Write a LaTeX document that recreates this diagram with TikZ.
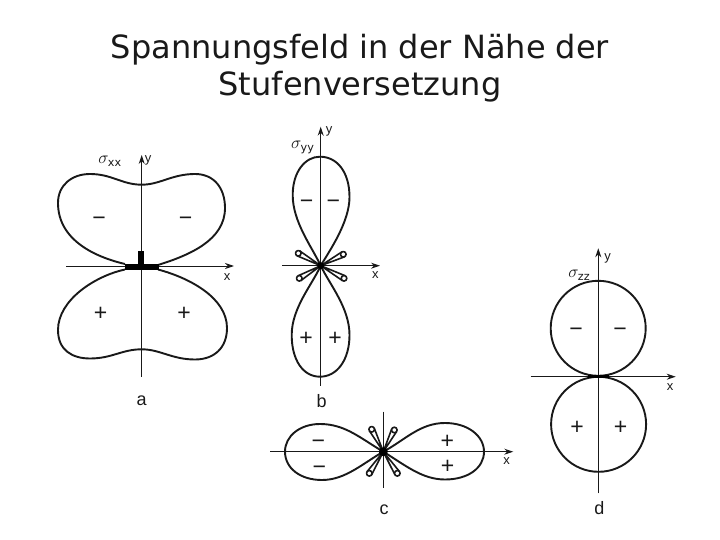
\documentclass[tikz,border=0pt]{standalone}
\usepackage{fontspec}
\setmainfont{DejaVu Sans}
\newfontfamily\panelfont{Liberation Sans}
\usetikzlibrary{arrows.meta,calc}
\begin{document}
\begin{tikzpicture}[
        x=1pt, y=-1pt,
        lobeline/.style={line width=1.9pt, line join=round, black!90},
        petalline/.style={line width=1.6pt, line join=round, black!90},
        axisline/.style={line width=1pt, black!90},
        axisarrow/.style={axisline, -{Stealth[length=9pt, width=6pt]}},
        titletext/.style={font=\fontsize{32}{32}\selectfont, text=black!90},
        panellabel/.style={font=\panelfont\fontsize{18}{18}\selectfont, text=black!90},
        axislabel/.style={font=\panelfont\fontsize{13}{13}\selectfont, text=black!90},
        signlabel/.style={font=\panelfont\fontsize{23}{23}\selectfont, text=black!90, inner sep=0pt},
        minuslabel/.style={signlabel, yshift=-4pt},
        pluslabel/.style={signlabel, yshift=-1.5pt},
        stresslabel/.style={font=\fontsize{16}{16}\selectfont, text=black!90, inner sep=0pt}
    ]
    \useasboundingbox (0,0) rectangle (720,540);
    \def\petalr{2.8}
    \def\drawpetal#1#2{
        \coordinate (e) at (#2);
        \draw[petalline] (#1) -- ($(e)!\petalr pt!90:(#1)$) (#1) -- ($(e)!\petalr pt!-90:(#1)$);
        \draw[petalline, fill=white] (e) circle (\petalr);
    }

    % === Title ===
    \node[titletext] (titleone) at (360,50) {Spannungsfeld in der Nähe der};
    \node[titletext] (titletwo) at (360,87) {Stufenversetzung};

    % === Panel a ===
    \draw[axisarrow] (66,266) -- (234,266);
    \draw[axisarrow] (141.7,376.7) -- (141.7,155);
    \draw[lobeline] (125,264) .. controls (95,257) and (58,240) .. (58,203)
        .. controls (58,185) and (72,174) .. (90,174)
        .. controls (112,174) and (122,184.7) .. (141.7,184.7)
        .. controls (160,184.7) and (172,174) .. (195,174)
        .. controls (214,174) and (225,188) .. (225,208)
        .. controls (225,240) and (190,255) .. (158,265);
    \draw[lobeline] (125,269.5) .. controls (95,276) and (58,300) .. (58,330)
        .. controls (58,350) and (72,358.5) .. (90,358.5)
        .. controls (112,358.5) and (122,349.3) .. (141.7,349.3)
        .. controls (160,349.3) and (172,359.5) .. (195,359.5)
        .. controls (214,359.5) and (227,348) .. (227,328)
        .. controls (227,298) and (190,278) .. (158,269.5);
    \fill[black] (125,264) rectangle (159.3,270);
    \fill[black] (138.3,251.3) rectangle (144,266);
    \node[stresslabel] (sxx) at (110,161) {$\sigma_{\mathrm{xx}}$};
    \node[axislabel] (ya) at (148,160) {y};
    \node[axislabel] (xa) at (227,277) {x};
    \node[minuslabel] (ma1) at (99,217.7) {\textminus};
    \node[minuslabel] (ma2) at (185.7,217.7) {\textminus};
    \node[pluslabel] (pa1) at (100.7,312) {+};
    \node[pluslabel] (pa2) at (184,312) {+};
    \node[panellabel] (capa) at (141.7,400.7) {a};

    % === Panel b ===
    \coordinate (cb) at (320.7,265.7);
    \draw[axisarrow] (282.3,265.7) -- (380,265.7);
    \draw[axisarrow] (320.7,385.7) -- (320.7,126.7);
    \draw[lobeline] (cb) .. controls (312,247) and (292.7,222) .. (292.7,195)
        .. controls (292.7,172) and (305,156.7) .. (320,156.7)
        .. controls (337,156.7) and (349.5,172) .. (349.5,197)
        .. controls (349.5,222) and (330,250) .. (cb);
    \draw[lobeline] (cb) .. controls (312,285) and (291.7,308) .. (291.7,335)
        .. controls (291.7,360) and (303,376.7) .. (320,376.7)
        .. controls (337,376.7) and (349.5,360) .. (349.5,335)
        .. controls (349.5,308) and (330,285) .. (cb);
    \drawpetal{cb}{298.3,253.3}
    \drawpetal{cb}{343.3,254.3}
    \drawpetal{cb}{299.3,278.3}
    \drawpetal{cb}{344,278.3}
    \fill[black] (cb) circle (3.5);
    \node[stresslabel] (syy) at (302.7,147.3) {$\sigma_{\mathrm{yy}}$};
    \node[axislabel] (yb) at (329,131.7) {y};
    \node[axislabel] (xb) at (375.3,275) {x};
    \node[minuslabel] (mb1) at (306.7,200.7) {\textminus};
    \node[minuslabel] (mb2) at (333.3,200.7) {\textminus};
    \node[pluslabel] (pb1) at (306,337.7) {+};
    \node[pluslabel] (pb2) at (335,337.7) {+};
    \node[panellabel] (capb) at (321.7,401) {b};

    % === Panel c ===
    \coordinate (cc) at (383.3,451.7);
    \draw[axisarrow] (270,451.7) -- (513.3,451.7);
    \draw[axisline] (383.3,411.7) -- (383.3,488.3);
    \draw[lobeline] (cc) .. controls (360,438) and (345,424) .. (320,424)
        .. controls (300,424) and (285,436) .. (285,451.7)
        .. controls (285,468) and (300,480) .. (322,480)
        .. controls (345,480) and (362,464) .. (cc);
    \draw[lobeline] (cc) .. controls (405,440) and (420,423) .. (445,423)
        .. controls (468,423) and (484,436) .. (484,451.7)
        .. controls (484,468) and (468,479.5) .. (445,479.5)
        .. controls (422,479.5) and (405,465) .. (cc);
    \drawpetal{cc}{371.7,429.3}
    \drawpetal{cc}{394.3,430}
    \drawpetal{cc}{369.3,473.3}
    \drawpetal{cc}{397.3,473.3}
    \fill[black] (cc) circle (4.5);
    \node[axislabel] (xc) at (506.7,461) {x};
    \node[minuslabel] (mc1) at (318.3,440) {\textminus};
    \node[minuslabel] (mc2) at (319.3,466) {\textminus};
    \node[pluslabel] (pc1) at (447.3,440.7) {+};
    \node[pluslabel] (pc2) at (447.7,465.7) {+};
    \node[panellabel] (capc) at (384,509.3) {c};

    % === Panel d ===
    \draw[axisarrow] (530.7,376.7) -- (675.7,376.7);
    \draw[axisarrow] (598.3,493.3) -- (598.3,248.3);
    \draw[lobeline] (598.2,328.3) circle (47.5);
    \draw[lobeline] (598.6,424.3) circle (47.5);
    \fill[black] (588.3,375.4) rectangle (609.3,378.2);
    \node[stresslabel] (szz) at (579.3,275) {$\sigma_{\mathrm{zz}}$};
    \node[axislabel] (yd) at (607.7,258.3) {y};
    \node[axislabel] (xd) at (670,386.7) {x};
    \node[minuslabel] (md1) at (576,328.3) {\textminus};
    \node[minuslabel] (md2) at (620,328.3) {\textminus};
    \node[pluslabel] (pd1) at (577,426) {+};
    \node[pluslabel] (pd2) at (620.7,426) {+};
    \node[panellabel] (capd) at (599.3,508.3) {d};
\end{tikzpicture}
\end{document}
